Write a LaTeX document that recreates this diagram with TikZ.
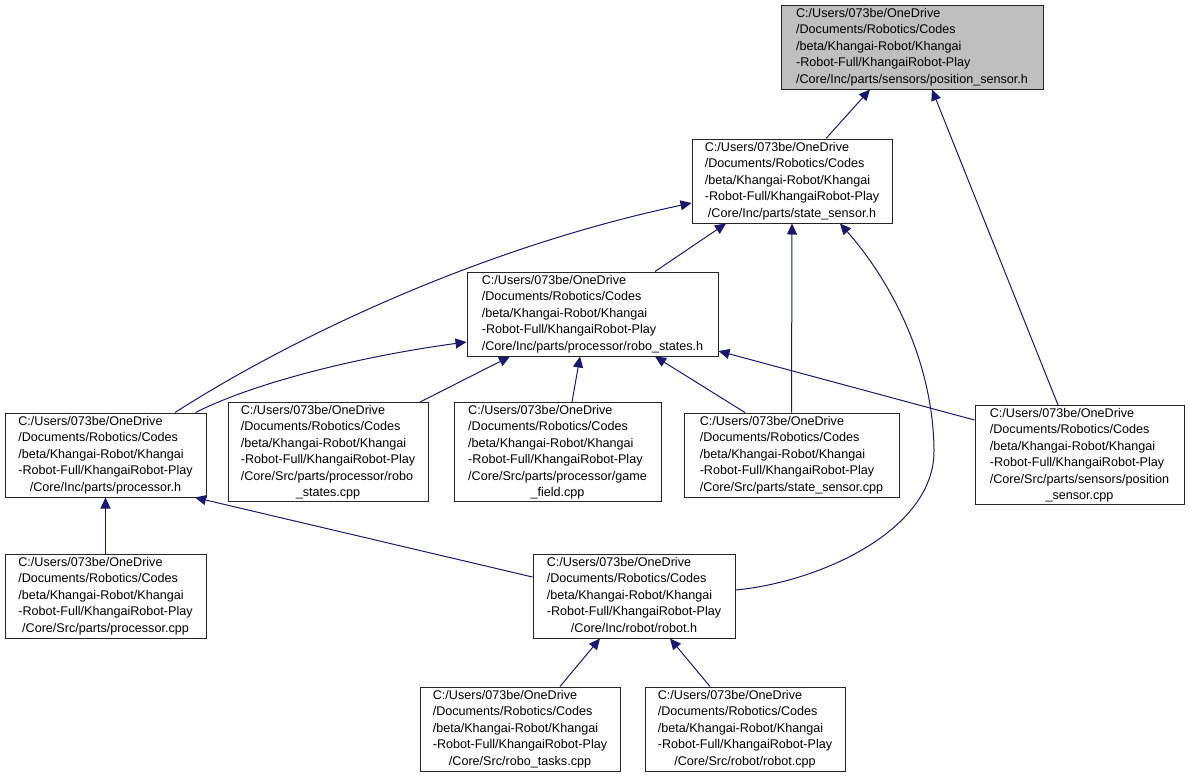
\documentclass[tikz,border=0pt]{standalone}
\usepackage{fontspec}
\setmainfont{Liberation Sans}
\usetikzlibrary{arrows.meta}
\definecolor{edgecol}{HTML}{191970}
\definecolor{topfill}{HTML}{BFBFBF}
\newcommand\flab[2]{\fontsize{12.6}{16.5}\selectfont\begin{tabular}{@{}l@{}}#1\\\multicolumn{1}{@{}c@{}}{#2}\end{tabular}}
\tikzset{
  filebox/.style={draw=black!85, line width=1pt, fill=white, inner sep=0pt, text=black},
  dep/.style={draw=edgecol, line width=1pt, -{Triangle[length=11pt,width=10pt]}}
}
\begin{document}
\begin{tikzpicture}[x=1pt,y=-1pt]
\useasboundingbox (0,0) rectangle (1190,777);
\node[filebox, fill=topfill, minimum width=262, minimum height=84] (posh) at (912,47)
  {\flab{C:/Users/073be/OneDrive\\/Documents/Robotics/Codes\\/beta/Khangai-Robot/Khangai\\-Robot-Full/KhangaiRobot-Play}{/Core/Inc/parts/sensors/position\_sensor.h}};
\node[filebox, minimum width=200, minimum height=84] (stateh) at (792,181)
  {\flab{C:/Users/073be/OneDrive\\/Documents/Robotics/Codes\\/beta/Khangai-Robot/Khangai\\-Robot-Full/KhangaiRobot-Play}{/Core/Inc/parts/state\_sensor.h}};
\node[filebox, minimum width=251, minimum height=84] (rsh) at (592.5,314)
  {\flab{C:/Users/073be/OneDrive\\/Documents/Robotics/Codes\\/beta/Khangai-Robot/Khangai\\-Robot-Full/KhangaiRobot-Play}{/Core/Inc/parts/processor/robo\_states.h}};
\node[filebox, minimum width=201, minimum height=84] (proch) at (105.5,455)
  {\flab{C:/Users/073be/OneDrive\\/Documents/Robotics/Codes\\/beta/Khangai-Robot/Khangai\\-Robot-Full/KhangaiRobot-Play}{/Core/Inc/parts/processor.h}};
\node[filebox, minimum width=200, minimum height=94] (rscpp) at (328,452)
  {\flab{C:/Users/073be/OneDrive\\/Documents/Robotics/Codes\\/beta/Khangai-Robot/Khangai\\-Robot-Full/KhangaiRobot-Play\\/Core/Src/parts/processor/robo}{\_states.cpp}};
\node[filebox, minimum width=207, minimum height=94] (gfcpp) at (557.5,452)
  {\flab{C:/Users/073be/OneDrive\\/Documents/Robotics/Codes\\/beta/Khangai-Robot/Khangai\\-Robot-Full/KhangaiRobot-Play\\/Core/Src/parts/processor/game}{\_field.cpp}};
\node[filebox, minimum width=215, minimum height=84] (sscpp) at (791.5,455)
  {\flab{C:/Users/073be/OneDrive\\/Documents/Robotics/Codes\\/beta/Khangai-Robot/Khangai\\-Robot-Full/KhangaiRobot-Play}{/Core/Src/parts/state\_sensor.cpp}};
\node[filebox, minimum width=209, minimum height=98] (poscpp) at (1079.5,455)
  {\flab{C:/Users/073be/OneDrive\\/Documents/Robotics/Codes\\/beta/Khangai-Robot/Khangai\\-Robot-Full/KhangaiRobot-Play\\/Core/Src/parts/sensors/position}{\_sensor.cpp}};
\node[filebox, minimum width=201, minimum height=84] (proccpp) at (105.5,596)
  {\flab{C:/Users/073be/OneDrive\\/Documents/Robotics/Codes\\/beta/Khangai-Robot/Khangai\\-Robot-Full/KhangaiRobot-Play}{/Core/Src/parts/processor.cpp}};
\node[filebox, minimum width=202, minimum height=84] (roboth) at (634,596)
  {\flab{C:/Users/073be/OneDrive\\/Documents/Robotics/Codes\\/beta/Khangai-Robot/Khangai\\-Robot-Full/KhangaiRobot-Play}{/Core/Inc/robot/robot.h}};
\node[filebox, minimum width=200, minimum height=84] (rtcpp) at (520,729)
  {\flab{C:/Users/073be/OneDrive\\/Documents/Robotics/Codes\\/beta/Khangai-Robot/Khangai\\-Robot-Full/KhangaiRobot-Play}{/Core/Src/robo\_tasks.cpp}};
\node[filebox, minimum width=200, minimum height=84] (robotcpp) at (745,729)
  {\flab{C:/Users/073be/OneDrive\\/Documents/Robotics/Codes\\/beta/Khangai-Robot/Khangai\\-Robot-Full/KhangaiRobot-Play}{/Core/Src/robot/robot.cpp}};

% edges
\draw[dep] ([xshift=34]stateh.north) -- ([xshift=-42]posh.south);
\draw[dep] ([xshift=-21.5]poscpp.north) -- ([xshift=20]posh.south);
\draw[dep] ([xshift=62.5]rsh.north) -- ([xshift=-66]stateh.south);
\draw[dep] (sscpp.north) -- (stateh.south);
\draw[dep] ([yshift=6]roboth.east) .. controls (820,582) and (935,530) .. (934,450)
  .. controls (933,360) and (890,280) .. ([xshift=48]stateh.south);
\draw[dep] ([xshift=69.5]proch.north) .. controls (280,345) and (470,250) .. ([yshift=-22]stateh.west);
\draw[dep] ([xshift=90]proch.north) .. controls (260,380) and (370,355) .. ([yshift=-28]rsh.west);
\draw[dep] ([xshift=92]rscpp.north) -- ([xshift=-82.5]rsh.south);
\draw[dep] ([xshift=14.5]gfcpp.north) -- ([xshift=-12.5]rsh.south);
\draw[dep] ([xshift=-46.5]sscpp.north) -- ([xshift=62.5]rsh.south);
\draw[dep] ([yshift=35]poscpp.west) -- ([yshift=-37]rsh.east);
\draw[dep] (proccpp.north) -- (proch.south);
\draw[dep] ([yshift=19]roboth.west) -- ([xshift=89.5]proch.south);
\draw[dep] ([xshift=40]rtcpp.north) -- ([xshift=-34]roboth.south);
\draw[dep] ([xshift=-35]robotcpp.north) -- ([xshift=36]roboth.south);
\end{tikzpicture}
\end{document}
